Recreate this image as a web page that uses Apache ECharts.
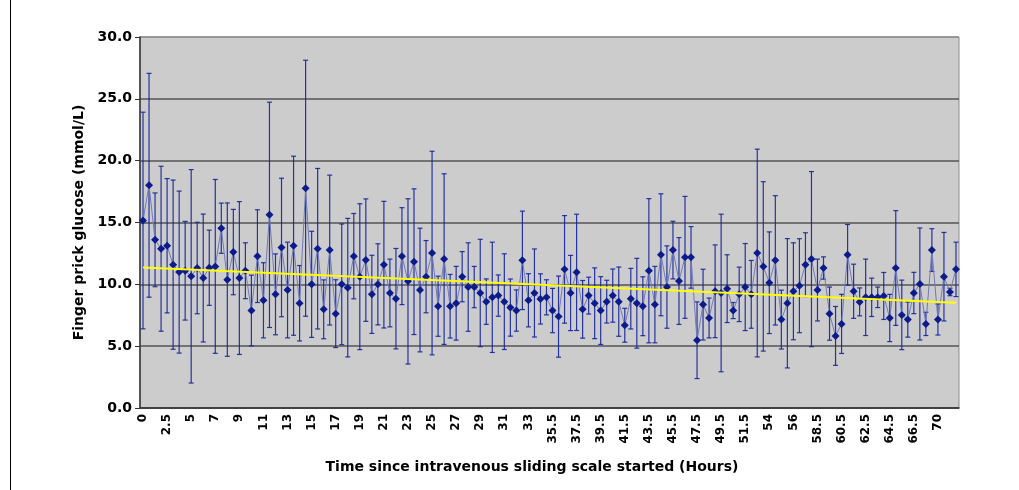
<!DOCTYPE html>
<html>
<head>
<meta charset="utf-8">
<script src="https://cdn.jsdelivr.net/npm/echarts@6/dist/echarts.min.js"></script>
<style>
  html, body { margin: 0; padding: 0; background: #fff; }
  #main { width: 1019px; height: 490px; }
</style>
</head>
<body>
<div id="main"></div>
<script>
// time since start (hours) - one category per reading
const hours = [
  '0', '0.5', '1', '2', '2.5', '3', '3.5', '4', '5', '5.5', '6', '6.5',
  '7', '7.5', '8', '8.5', '9', '9.5', '10', '10.5', '11', '11.5', '12', '12.5',
  '13', '13.5', '14', '14.5', '15', '15.5', '16', '16.5', '17', '17.5', '18', '18.5',
  '19', '19.5', '20', '20.5', '21', '21.5', '22', '22.5', '23', '23.5', '24', '24.5',
  '25', '25.5', '26', '26.5', '27', '27.5', '28', '28.5', '29', '29.5', '30', '30.5',
  '31', '31.5', '32', '32.5', '33', '33.5', '34', '35', '35.5', '36', '36.5', '37',
  '37.5', '38', '38.5', '39', '39.5', '40', '40.5', '41', '41.5', '42', '42.5', '43',
  '43.5', '44', '44.5', '45', '45.5', '46', '46.5', '47', '47.5', '48', '48.5', '49',
  '49.5', '50', '50.5', '51', '51.5', '52', '52.5', '53', '54', '54.5', '55', '55.5',
  '56', '56.5', '57', '58', '58.5', '59', '59.5', '60', '60.5', '61', '61.5', '62',
  '62.5', '63', '63.5', '64', '64.5', '65', '65.5', '66', '66.5', '67', '68', '69',
  '70', '70.5', '71', '71.5'
];

// mean finger prick glucose (mmol/L)
const meanGlucose = [
  15.16, 18.01, 13.60, 12.88, 13.12, 11.59, 10.99, 11.10, 10.65, 11.32, 10.51, 11.34, 11.45, 14.54,
  10.38, 12.61, 10.51, 11.10, 7.88, 12.28, 8.71, 15.62, 9.19, 12.98, 9.54, 13.12, 8.47,
  17.77, 10.00, 12.88, 7.98, 12.77, 7.63, 10.00, 9.73, 12.28, 10.62, 11.96, 9.19, 10.00, 11.59,
  9.30, 8.84, 12.28, 10.24, 11.83, 9.54, 10.62, 12.53, 8.23, 12.04, 8.23, 8.47, 10.62,
  9.78, 9.78, 9.30, 8.60, 8.95, 9.09, 8.60, 8.12, 7.88, 11.94, 8.71, 9.30, 8.82, 8.95,
  7.88, 7.39, 11.21, 9.30, 10.97, 7.98, 9.09, 8.47, 7.88, 8.60, 9.09, 8.60, 6.69,
  8.84, 8.47, 8.23, 11.10, 8.36, 12.39, 9.78, 12.77, 10.27, 12.18, 12.18, 5.48, 8.36, 7.28,
  9.44, 9.30, 9.65, 7.88, 9.19, 9.78, 9.19, 12.53, 11.45, 10.13, 11.94, 7.15, 8.47,
  9.44, 9.89, 11.59, 12.04, 9.54, 11.32, 7.63, 5.83, 6.80, 12.39, 9.44, 8.58, 8.95, 8.95,
  8.95, 9.06, 7.28, 11.32, 7.53, 7.15, 9.30, 10.03, 6.80, 12.77, 7.15, 10.62, 9.38, 11.21
];

// error bar half-width (+/-)
const errGlucose = [
  8.76, 9.05, 3.79, 6.67, 5.43, 6.84, 6.55, 3.99, 8.63, 3.70, 5.17, 3.04, 7.03, 2.03,
  6.20, 3.45, 6.18, 2.26, 2.86, 3.75, 3.04, 9.11, 3.27, 5.60, 3.87, 7.24, 3.05,
  10.35, 4.29, 6.49, 2.38, 6.06, 2.74, 4.88, 5.60, 3.45, 5.90, 4.95, 3.16, 3.28, 5.12,
  2.74, 4.06, 3.92, 6.68, 5.89, 5.00, 2.92, 8.23, 2.43, 6.90, 2.57, 2.98, 2.03,
  3.58, 1.67, 4.34, 1.84, 4.46, 1.67, 3.87, 2.31, 1.67, 3.98, 2.15, 3.56, 2.03, 1.42,
  1.79, 3.28, 4.35, 3.04, 4.70, 2.33, 1.49, 2.86, 2.74, 1.73, 2.15, 2.80, 1.37,
  2.45, 3.63, 2.38, 5.83, 3.09, 4.93, 3.33, 2.33, 3.51, 4.93, 2.49, 3.10, 2.86, 1.61,
  3.75, 6.37, 2.74, 0.65, 2.20, 3.52, 2.74, 8.40, 6.85, 4.11, 5.23, 2.38, 5.23,
  3.92, 3.80, 2.58, 7.08, 2.50, 0.90, 2.15, 2.38, 2.39, 2.45, 2.19, 1.13, 3.09, 1.55,
  0.83, 1.90, 1.91, 4.64, 2.81, 1.42, 1.67, 4.53, 0.94, 1.73, 1.25, 3.58, 0.30, 2.20
];

// linear trend line, first and last reading
const trendStart = 11.37;
const trendEnd = 8.51;

const yTicks = { min: 0, max: 30, step: 5 };

const errData = meanGlucose.map((m, i) => [i, m - errGlucose[i], m + errGlucose[i]]);

const chart = echarts.init(document.getElementById('main'));

const option = {
  animation: false,
  textStyle: { fontFamily: 'DejaVu Sans, Verdana, sans-serif' },
  graphic: [
    {
      type: 'line',
      shape: { x1: 10.5, y1: 0, x2: 10.5, y2: 490 },
      style: { stroke: '#000', lineWidth: 1 }
    }
  ],
  grid: {
    left: 140,
    right: 60,
    top: 37,
    bottom: 82,
    show: true,
    backgroundColor: '#cccccc',
    borderColor: '#8c8c8c',
    borderWidth: 1
  },
  xAxis: {
    type: 'category',
    data: hours,
    name: 'Time since intravenous sliding scale started (Hours)',
    nameLocation: 'middle',
    nameGap: 52,
    nameTextStyle: {
      fontSize: 14,
      fontWeight: 'bold',
      color: '#000',
      padding: [0, 35, 0, 0]
    },
    axisLine: { lineStyle: { color: '#333', width: 1.5 } },
    axisTick: { interval: 0, length: 4, lineStyle: { color: '#333' } },
    axisLabel: {
      interval: 3,
      rotate: 90,
      fontSize: 12,
      fontWeight: 'bold',
      color: '#000',
      margin: 6
    },
    splitLine: { show: false }
  },
  yAxis: {
    type: 'value',
    min: yTicks.min,
    max: yTicks.max,
    interval: yTicks.step,
    name: 'Finger prick glucose (mmol/L)',
    nameLocation: 'middle',
    nameGap: 47,
    nameTextStyle: { fontSize: 14, fontWeight: 'bold', color: '#000' },
    axisLine: { show: true, lineStyle: { color: '#333', width: 1.5 } },
    axisTick: { show: true, length: 5, lineStyle: { color: '#333' } },
    axisLabel: {
      fontSize: 14,
      fontWeight: 'bold',
      color: '#000',
      margin: 8,
      formatter: (v) => v.toFixed(1)
    },
    splitLine: {
      show: true,
      lineStyle: {
        color: ['#555', '#555', '#555', '#555', '#555', '#555', '#8c8c8c'],
        width: 1.5
      }
    }
  },
  series: [
    {
      type: 'custom',
      name: 'sd',
      data: errData,
      z: 2,
      renderItem: function (params, api) {
        const x = api.value(0);
        const lo = api.coord([x, api.value(1)]);
        const hi = api.coord([x, api.value(2)]);
        const cap = 2.5;
        const style = { stroke: '#15229a', lineWidth: 1.2, opacity: 0.9 };
        return {
          type: 'group',
          children: [
            { type: 'line', shape: { x1: hi[0], y1: hi[1], x2: lo[0], y2: lo[1] }, style: style },
            { type: 'line', shape: { x1: hi[0] - cap, y1: hi[1], x2: hi[0] + cap, y2: hi[1] }, style: style },
            { type: 'line', shape: { x1: lo[0] - cap, y1: lo[1], x2: lo[0] + cap, y2: lo[1] }, style: style }
          ]
        };
      }
    },
    {
      type: 'line',
      name: 'glucose',
      data: meanGlucose,
      z: 3,
      symbol: 'diamond',
      symbolSize: 8,
      showAllSymbol: true,
      itemStyle: { color: '#0b1b8c' },
      lineStyle: { color: '#7079bb', width: 1 }
    },
    {
      type: 'line',
      name: 'trend',
      data: [[0, trendStart], [hours.length - 1, trendEnd]],
      z: 4,
      symbol: 'none',
      lineStyle: { color: '#ffff00', width: 2 }
    }
  ]
};

chart.setOption(option);
</script>
</body>
</html>
